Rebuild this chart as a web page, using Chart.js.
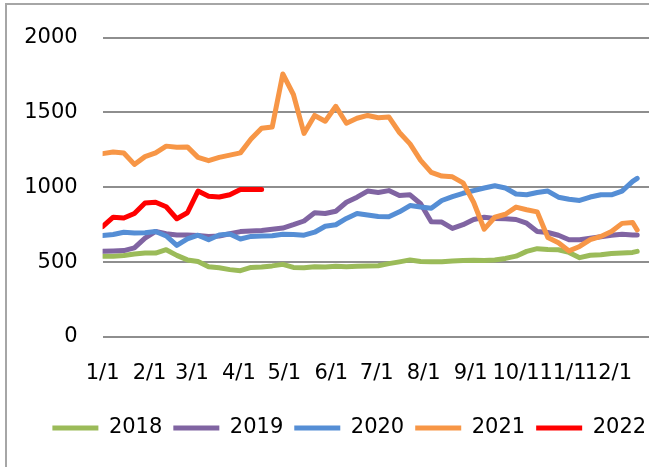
<!DOCTYPE html>
<html>
<head>
<meta charset="utf-8">
<script src="https://cdn.jsdelivr.net/npm/chart.js@4"></script>
<style>
  body { margin: 0; background: #fff; }
  #frame { position: absolute; left: 5px; top: 3px; width: 700px; height: 600px;
           border-left: 2px solid #a6a6a6; border-top: 2px solid #a6a6a6; }
  #chart { position: absolute; left: 0; top: 0; }
</style>
</head>
<body>
<div id="frame"></div>
<canvas id="chart" width="649" height="467"></canvas>
<script>
// Day of year for each sample (weekly)
const days = [0, 7, 14, 21, 28, 35, 42, 49, 56, 63, 70, 77, 84, 91, 98, 105, 112, 119, 126, 133,
  140, 147, 154, 161, 168, 175, 182, 189, 196, 203, 210, 217, 224, 231, 238, 245, 252, 259, 266, 273,
  280, 287, 294, 301, 308, 315, 322, 329, 336, 343, 350, 353];

const monthDays = [0, 31, 59, 90, 120, 151, 181, 212, 243, 273, 304, 334];
const monthLabels = ['1/1', '2/1', '3/1', '4/1', '5/1', '6/1', '7/1', '8/1', '9/1', '10/1', '11/1', '12/1'];

const v2018 = [540, 540, 545, 555, 561, 561, 583, 545, 515, 505, 470, 462, 450, 443, 465, 467, 475, 485, 465, 463,
  470, 468, 472, 470, 472, 475, 476, 490, 502, 515, 505, 503, 502, 508, 511, 512, 511, 515, 525, 540,
  572, 590, 585, 583, 565, 530, 546, 550, 558, 561, 565, 572];
const v2019 = [572, 575, 577, 595, 660, 705, 690, 682, 682, 678, 672, 675, 690, 704, 708, 712, 720, 728, 750, 775,
  830, 825, 840, 900, 934, 975, 965, 978, 945, 950, 890, 770, 768, 725, 750, 785, 800, 792, 790, 785,
  760, 705, 698, 680, 650, 650, 660, 670, 680, 686, 682, 682];
const v2020 = [678, 685, 700, 695, 697, 705, 675, 612, 655, 680, 650, 682, 688, 655, 672, 675, 676, 686, 685, 680,
  700, 740, 750, 792, 825, 815, 805, 803, 836, 878, 868, 860, 912, 938, 960, 978, 995, 1010, 995, 955,
  950, 965, 975, 934, 920, 912, 935, 950, 950, 975, 1040, 1060];
const v2021 = [1225, 1236, 1229, 1153, 1205, 1230, 1275, 1268, 1270, 1200, 1178, 1200, 1215, 1230, 1322, 1395, 1403, 1757, 1620, 1360,
  1480, 1441, 1541, 1428, 1461, 1480, 1465, 1470, 1366, 1290, 1180, 1100, 1075, 1070, 1030, 900, 720, 800, 820, 868,
  850, 836, 665, 630, 575, 605, 650, 672, 705, 759, 765, 715];
const v2022 = [737, 800, 795, 825, 895, 900, 870, 790, 830, 975, 940, 935, 950, 985, 985, 985];

const c = {
  y2018: '#9BBB59',
  y2019: '#8064A2',
  y2020: '#558ED5',
  y2021: '#F79646',
  y2022: '#FF0000'
};

const pts = vals => vals.map((v, i) => ({ x: days[i], y: v }));

const series = [
  { label: '2018', data: pts(v2018), color: c.y2018, order: 4 },
  { label: '2019', data: pts(v2019), color: c.y2019, order: 3 },
  { label: '2020', data: pts(v2020), color: c.y2020, order: 2 },
  { label: '2021', data: pts(v2021), color: c.y2021, order: 1 },
  { label: '2022', data: pts(v2022), color: c.y2022, order: 0 }
];

// legend sits left of centre in the original, nudge it over
const shiftLegend = {
  id: 'shiftLegend',
  afterLayout(chart) {
    chart.legend.left += 24.75;
    chart.legend.right += 24.75;
  }
};

Chart.defaults.font.family = 'DejaVu Sans';
Chart.defaults.color = '#000';

new Chart(document.getElementById('chart'), {
  type: 'line',
  data: {
    datasets: series.map(s => ({
      label: s.label,
      data: s.data,
      order: s.order,
      borderColor: s.color,
      backgroundColor: s.color,
      borderWidth: 5,
      borderCapStyle: 'round',
      borderJoinStyle: 'round',
      pointRadius: 0,
      tension: 0
    }))
  },
  options: {
    responsive: false,
    animation: false,
    layout: { padding: { left: 0, right: 0, top: 33, bottom: 18.5 } },
    plugins: {
      tooltip: { enabled: false },
      legend: {
        position: 'bottom',
        labels: {
          font: { size: 21 },
          usePointStyle: true,
          pointStyle: 'line',
          pointStyleWidth: 46,
          padding: 11,
          sort: (a, b) => a.datasetIndex - b.datasetIndex
        }
      }
    },
    scales: {
      x: {
        type: 'linear',
        min: 0,
        max: 360.8,
        grid: { display: false },
        border: { display: false },
        afterBuildTicks: scale => { scale.ticks = monthDays.map(d => ({ value: d })); },
        afterFit: scale => { scale.height = 69.5; },
        ticks: {
          autoSkip: false,
          maxRotation: 0,
          minRotation: 0,
          padding: 16,
          font: { size: 21 },
          callback: v => monthLabels[monthDays.indexOf(v)]
        }
      },
      y: {
        min: 0,
        max: 2000,
        afterFit: scale => { scale.width = 102.6; },
        border: { display: false },
        grid: { color: '#8e8e8e', lineWidth: 2, drawTicks: false },
        ticks: { stepSize: 500, padding: 25, font: { size: 21 }, callback: v => String(v) }
      }
    }
  },
  plugins: [shiftLegend]
});
</script>
</body>
</html>
